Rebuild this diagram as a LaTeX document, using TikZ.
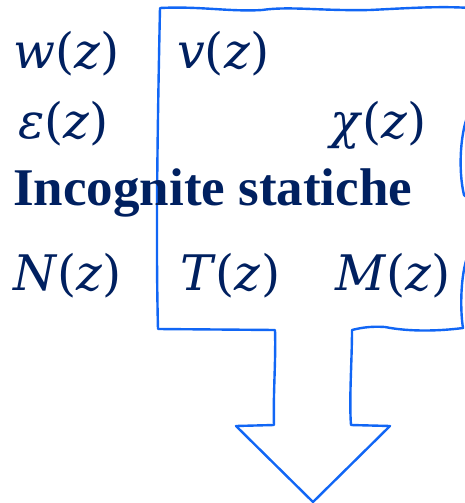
\documentclass[tikz,border=0pt]{standalone}
\usepackage{fontspec}
\setmainfont{Liberation Serif}
\newfontfamily\mth{DejaVu Serif}
\newcommand{\mvar}[1]{{\mth\itshape #1\/}}
\newcommand{\ofz}{{\mth(}\mvar{z}{\mth)}}
\definecolor{navy}{HTML}{002060}
\definecolor{outl}{HTML}{1166F5}
\begin{document}
\begin{tikzpicture}[x=1pt,y=-1pt,
  mathlbl/.style={anchor=base west, inner sep=0pt, text=navy, font=\fontsize{49}{58}\selectfont},
  boldlbl/.style={anchor=base west, inner sep=0pt, text=navy, font=\fontsize{53}{60}\selectfont\bfseries},
  outline/.style={draw=outl, line width=2.4pt, line join=round}]
\useasboundingbox (0,0) rectangle (465,503);
\begin{scope}
\clip (0,0) rectangle (465,503);
\draw[outline]
  (160,8) .. controls (200,6) and (230,12) .. (262,10)
  .. controls (290,6) and (320,11) .. (370,10)
  .. controls (410,8) and (440,6) .. (470,8)
  -- (470,110) .. controls (460,130) and (458,170) .. (464,195)
  -- (470,200) -- (470,250)
  .. controls (460,270) and (460,310) .. (463,328)
  .. controls (440,331) and (410,332) .. (385,327)
  .. controls (370,326) and (360,328) .. (352,330)
  .. controls (352,360) and (349,400) .. (351,425)
  -- (390,426) -- (313,502) -- (236,426) -- (274,425)
  .. controls (273,395) and (276,360) .. (275,330)
  -- (158,329)
  .. controls (156,250) and (157,150) .. (160,8) -- cycle;
\end{scope}
\node[mathlbl] (w) at (13,68) {\mvar{w}\ofz};
\node[mathlbl] (v) at (177,68) {\mvar{v}\ofz};
\node[mathlbl] (eps) at (18,138) {\mvar{ε}\ofz};
\node[mathlbl] (chi) at (330,138) {\mvar{χ}\ofz};
\node[boldlbl] (title) at (13,205) {Incognite statiche};
\node[mathlbl] (N) at (13,290) {\mvar{N}\ofz};
\node[mathlbl] (T) at (180,290) {\mvar{T}\ofz};
\node[mathlbl] (M) at (335,290) {\mvar{M}\ofz};
\end{tikzpicture}
\end{document}
